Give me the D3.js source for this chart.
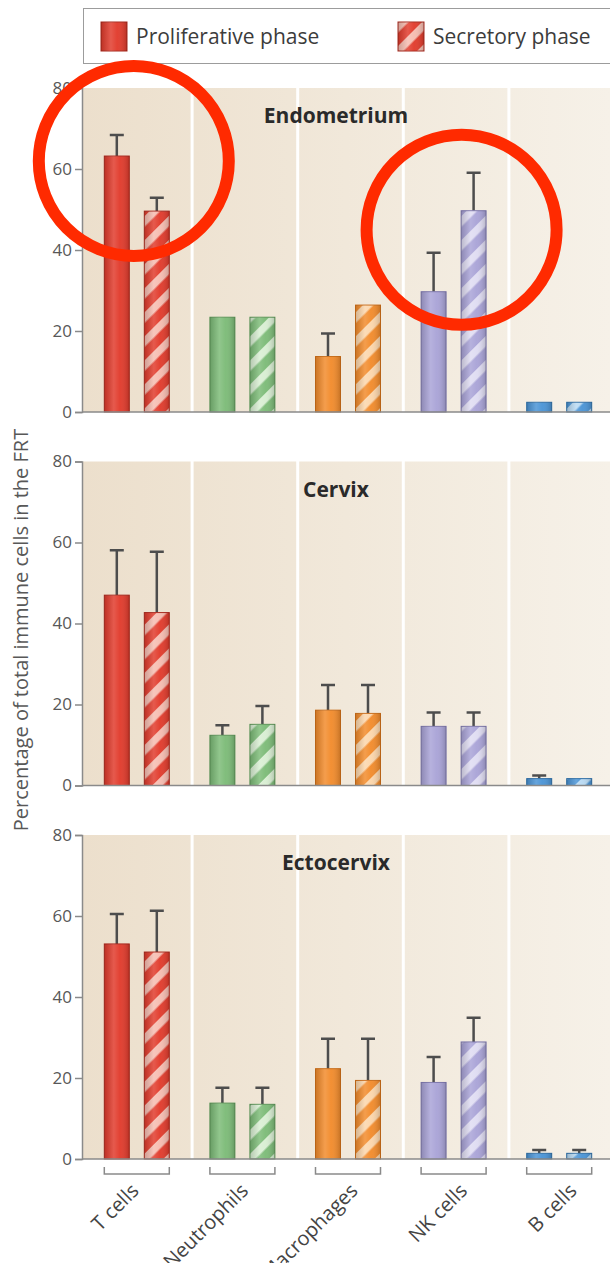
<!DOCTYPE html>
<html>
<head>
<meta charset="utf-8">
<script src="https://cdn.jsdelivr.net/npm/d3@7"></script>
<style>
  body { margin: 0; background: #fff; }
  svg { display: block; font-family: 'Open Sans', sans-serif; }
</style>
</head>
<body>
<div id="chart"></div>
<script>
const categories = ['T cells', 'Neutrophils', 'Macrophages', 'NK cells', 'B cells'];
const tissues = ['Endometrium', 'Cervix', 'Ectocervix'];
const phases = ['Proliferative phase', 'Secretory phase'];
const yTicks = [0, 20, 40, 60, 80];

// % of immune cells, one row per tissue, columns follow categories
const proliferative = [
    [63.2, 23.4, 13.7, 29.7, 2.4],
    [47.0, 12.4, 18.6, 14.6, 1.7],
    [53.1, 13.8, 22.3, 18.9, 1.4]
];
const proliferativeErr = [
    [5.2, 0, 5.7, 9.6, 0],
    [11.1, 2.5, 6.2, 3.4, 0.8],
    [7.4, 3.8, 7.4, 6.3, 0.8]
];
const secretory = [
    [49.6, 23.4, 26.4, 49.7, 2.4],
    [42.7, 15.1, 17.8, 14.6, 1.7],
    [51.1, 13.5, 19.4, 28.9, 1.4]
];
const secretoryErr = [
    [3.3, 0, 0, 9.4, 0],
    [15.0, 4.5, 7.0, 3.4, 0],
    [10.2, 4.1, 10.3, 6.0, 0.8]
];

// circled bars in the reference
const highlights = [
    { tissue: 0, category: 'T cells', value: 62, dx: -3 },
    { tissue: 0, category: 'NK cells', value: 45, dx: 8 }
];

const colors = [
    { base: '#e13a2b', light: '#f6bcb0', stroke: '#a8281d' },
    { base: '#7cbb77', light: '#d8eed2', stroke: '#5a9456' },
    { base: '#f28b2b', light: '#fcd6ab', stroke: '#c96c18' },
    { base: '#a9a3d7', light: '#dfdcf2', stroke: '#7b75ab' },
    { base: '#4a94d6', light: '#b9daf3', stroke: '#2d6ea6' }
];

const width = 610;
const height = 1263;
const axisX = 82;
const panelH = 324;
const panelStep = 373.5;
const firstTop = 88;
const gridColor = '#8a8a8a';

const svg = d3.select('#chart').append('svg')
    .attr('width', width)
    .attr('height', height);

const defs = svg.append('defs');

const bg = defs.append('linearGradient')
    .attr('id', 'panel-bg')
    .attr('gradientUnits', 'userSpaceOnUse')
    .attr('x1', axisX).attr('x2', width)
    .attr('y1', 0).attr('y2', 0);
bg.append('stop').attr('offset', 0).attr('stop-color', '#ecdfcc');
bg.append('stop').attr('offset', 1).attr('stop-color', '#f6f1e8');

const shade = defs.append('linearGradient')
    .attr('id', 'bar-shade')
    .attr('x1', 0).attr('x2', 1).attr('y1', 0).attr('y2', 0);
[[0, '#000', 0.16], [0.38, '#fff', 0.16], [0.62, '#fff', 0.04], [1, '#000', 0.18]]
    .forEach(([o, c, a]) => shade.append('stop')
        .attr('offset', o).attr('stop-color', c).attr('stop-opacity', a));

colors.forEach((c, i) => {
    const p = defs.append('pattern')
        .attr('id', `stripe-${i}`)
        .attr('patternUnits', 'userSpaceOnUse')
        .attr('width', 17).attr('height', 17)
        .attr('patternTransform', 'rotate(45)');
    p.append('rect').attr('width', 17).attr('height', 17).attr('fill', c.base);
    p.append('rect').attr('width', 7.5).attr('height', 17).attr('fill', c.light);
});

const x = d3.scaleBand()
    .domain(categories)
    .range([84, 612]);

const pairW = 65;
const sub = d3.scaleBand()
    .domain([0, 1])
    .range([0, pairW])
    .paddingInner(0.375);
const pairLeft = c => x(c) + (x.bandwidth() - pairW) / 2;

const labelX = d3.scalePoint()
    .domain(categories)
    .range([140, 578]);

// legend
const legend = svg.append('g');
legend.append('rect')
    .attr('x', 83.5).attr('y', 8.5)
    .attr('width', 540).attr('height', 55)
    .attr('fill', '#fff')
    .attr('stroke', '#9c9c9c');

const legendX = [101, 398];
phases.forEach((name, j) => {
    const g = legend.append('g').attr('transform', `translate(${legendX[j]},22)`);
    g.append('rect')
        .attr('width', 26).attr('height', 29)
        .attr('fill', j === 0 ? colors[0].base : 'url(#stripe-0)')
        .attr('stroke', colors[0].stroke);
    g.append('rect')
        .attr('width', 26).attr('height', 29)
        .attr('fill', 'url(#bar-shade)');
    g.append('text')
        .attr('x', 35).attr('y', 22)
        .attr('font-size', 21)
        .attr('fill', '#3c3c3c')
        .text(name);
});

tissues.forEach((tissue, t) => {
    const top = firstTop + t * panelStep;
    const y = d3.scaleLinear()
        .domain([0, 80])
        .range([top + panelH, top]);
    const y0 = y(0);

    const panel = svg.append('g');

    panel.selectAll('rect.col')
        .data(categories)
        .join('rect')
        .attr('class', 'col')
        .attr('x', (c, i) => i === 0 ? axisX : x(c) + 4)
        .attr('width', (c, i) => i === 0 ? x(c) + x.step() + 1 - axisX : x.step() - 3)
        .attr('y', top)
        .attr('height', panelH)
        .attr('fill', 'url(#panel-bg)');

    panel.append('text')
        .attr('x', 336)
        .attr('y', top + 35)
        .attr('text-anchor', 'middle')
        .attr('font-size', 21)
        .attr('font-weight', 700)
        .attr('fill', '#2a2a2a')
        .text(tissue);

    const rows = categories.map((c, i) => [
        { c, i, j: 0, v: proliferative[t][i], e: proliferativeErr[t][i] },
        { c, i, j: 1, v: secretory[t][i], e: secretoryErr[t][i] }
    ]).flat();

    const bars = panel.selectAll('g.bar')
        .data(rows)
        .join('g')
        .attr('class', 'bar')
        .attr('transform', d => `translate(${pairLeft(d.c) + sub(d.j)},0)`);

    bars.filter(d => d.e > 0).append('path')
        .attr('d', d => {
            const w = sub.bandwidth();
            return `M${w / 2},${y(d.v)}V${y(d.v + d.e)}M${w / 2 - 7},${y(d.v + d.e)}H${w / 2 + 7}`;
        })
        .attr('fill', 'none')
        .attr('stroke', '#4d4d4d')
        .attr('stroke-width', 2.5);

    bars.append('rect')
        .attr('y', d => y(d.v))
        .attr('width', sub.bandwidth())
        .attr('height', d => y0 - y(d.v))
        .attr('fill', d => d.j === 0 ? colors[d.i].base : `url(#stripe-${d.i})`)
        .attr('stroke', d => colors[d.i].stroke)
        .attr('stroke-width', 1);

    bars.append('rect')
        .attr('y', d => y(d.v))
        .attr('width', sub.bandwidth())
        .attr('height', d => y0 - y(d.v))
        .attr('fill', 'url(#bar-shade)');

    panel.append('line')
        .attr('x1', axisX).attr('x2', width)
        .attr('y1', y0).attr('y2', y0)
        .attr('stroke', gridColor)
        .attr('stroke-width', 1.5);

    const axis = panel.append('g')
        .attr('transform', `translate(${axisX},0)`)
        .call(d3.axisLeft(y).tickValues(yTicks).tickSize(7).tickPadding(3));
    axis.select('.domain').attr('stroke', gridColor).attr('stroke-width', 1.5);
    axis.selectAll('.tick line').attr('stroke', gridColor).attr('stroke-width', 1.5);
    axis.selectAll('.tick text')
        .attr('font-family', "'Open Sans', sans-serif")
        .attr('font-size', 17)
        .attr('fill', '#585858');

    if (t === tissues.length - 1) {
        panel.selectAll('path.bracket')
            .data(categories)
            .join('path')
            .attr('class', 'bracket')
            .attr('d', c => `M${pairLeft(c)},${y0 + 8}V${y0 + 15}H${pairLeft(c) + pairW}V${y0 + 8}`)
            .attr('fill', 'none')
            .attr('stroke', gridColor)
            .attr('stroke-width', 1.5);

        panel.selectAll('text.cat')
            .data(categories)
            .join('text')
            .attr('class', 'cat')
            .attr('transform', c => `translate(${labelX(c)},${y0 + 33}) rotate(-45)`)
            .attr('text-anchor', 'end')
            .attr('font-size', 20)
            .attr('fill', '#444')
            .text(c => c);
    }

    highlights.filter(h => h.tissue === t).forEach(h => {
        svg.append('circle')
            .attr('class', 'highlight')
            .attr('cx', x(h.category) + x.bandwidth() / 2 + h.dx)
            .attr('cy', y(h.value))
            .attr('r', 95)
            .attr('fill', 'none')
            .attr('stroke', '#ff2a00')
            .attr('stroke-width', 12);
    });
});

svg.append('text')
    .attr('transform', 'translate(28,630) rotate(-90)')
    .attr('text-anchor', 'middle')
    .attr('font-size', 20)
    .attr('fill', '#585858')
    .text('Percentage of total immune cells in the FRT');

svg.selectAll('circle.highlight').raise();
</script>
</body>
</html>
